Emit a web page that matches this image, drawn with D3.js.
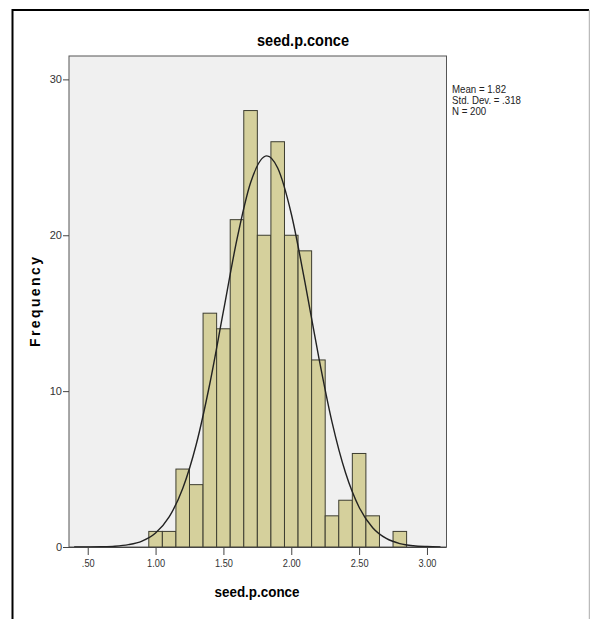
<!DOCTYPE html>
<html lang="en">
<head>
  <meta charset="UTF-8">
  <title>seed.p.conce histogram</title>
  <script src="https://d3js.org/d3.v7.min.js"></script>
  <style>
    body { margin: 0; background: #fff; }
    svg { display: block; font-family: "Liberation Sans", Arial, sans-serif; }
    .tick text { fill: #333; font-size: 11px; }
    .tick line { stroke: #444; }
  </style>
</head>
<body>
  <svg width="590" height="619"></svg>

  <script>
    // histogram bins (centre of each 0.1 wide bin) and counts
    const binCenters = [1.0, 1.1, 1.2, 1.3, 1.4, 1.5, 1.6, 1.7, 1.8, 1.9, 2.0, 2.1, 2.2, 2.3, 2.4, 2.5, 2.6, 2.7, 2.8];
    const binCounts  = [1, 1, 5, 4, 15, 14, 21, 28, 20, 26, 20, 19, 12, 2, 3, 6, 2, 0, 1];
    const binWidth = 0.1;

    // normal curve
    const curveX = [0.4, 0.5, 0.6, 0.7, 0.8, 0.9, 1.0, 1.1, 1.2, 1.3, 1.4, 1.5, 1.6, 1.7, 1.82, 1.9, 2.0, 2.1, 2.2, 2.3, 2.4, 2.5, 2.6, 2.7, 2.8, 2.9, 3.0, 3.1];
    const curveY = [0.001, 0.005, 0.016, 0.05, 0.15, 0.38, 0.9, 1.93, 3.75, 6.59, 10.49, 15.13, 19.75, 23.37, 25.09, 24.31, 21.38, 17.03, 12.29, 8.03, 4.76, 2.55, 1.24, 0.55, 0.22, 0.08, 0.03, 0.01];

    const xTicks = [0.5, 1.0, 1.5, 2.0, 2.5, 3.0];
    const xTickLabels = [".50", "1.00", "1.50", "2.00", "2.50", "3.00"];
    const yTicks = [0, 10, 20, 30];
    const statsLines = ["Mean = 1.82", "Std. Dev. = .318", "N = 200"];

    const svg = d3.select("svg");

    const plot = { left: 69, right: 446.5, top: 56, bottom: 547 };

    const x = d3.scaleLinear().domain([0.362, 3.144]).range([plot.left, plot.right]);
    const y = d3.scaleLinear().domain([0, 31.5]).range([plot.bottom, plot.top]);

    // outer frame
    svg.append("path")
      .attr("d", "M12.5,619 L12.5,10 L589,10")
      .attr("fill", "none").attr("stroke", "#000").attr("stroke-width", 2);
    svg.append("line")
      .attr("x1", 589.5).attr("x2", 589.5).attr("y1", 10).attr("y2", 619)
      .attr("stroke", "#bbb").attr("stroke-width", 1.5);

    // plot background
    svg.append("rect")
      .attr("x", plot.left).attr("y", plot.top)
      .attr("width", plot.right - plot.left).attr("height", plot.bottom - plot.top)
      .attr("fill", "#f0f0f0").attr("stroke", "#555").attr("stroke-width", 1);

    // bars
    svg.append("g").selectAll("rect")
      .data(binCenters)
      .enter()
      .append("rect")
      .attr("x", d => x(d - binWidth / 2))
      .attr("width", d => x(d + binWidth / 2) - x(d - binWidth / 2))
      .attr("y", (d, i) => y(binCounts[i]))
      .attr("height", (d, i) => y(0) - y(binCounts[i]))
      .attr("fill", "#d5d09c")
      .attr("stroke", "#3d3d30")
      .attr("stroke-width", 1);

    // normal curve
    const line = d3.line()
      .x(d => x(d[0]))
      .y(d => y(d[1]))
      .curve(d3.curveMonotoneX);

    svg.append("path")
      .datum(curveX.map((v, i) => [v, curveY[i]]))
      .attr("d", line)
      .attr("fill", "none")
      .attr("stroke", "#222")
      .attr("stroke-width", 1.4);

    // axes
    const yAxis = svg.append("g")
      .attr("transform", `translate(${plot.left},0)`)
      .call(d3.axisLeft(y).tickValues(yTicks).tickSize(6).tickPadding(1).tickSizeOuter(0));
    yAxis.select(".domain").remove();

    const xAxis = svg.append("g")
      .attr("transform", `translate(0,${plot.bottom})`)
      .call(d3.axisBottom(x).tickValues(xTicks).tickSize(8).tickPadding(4)
        .tickFormat((d, i) => xTickLabels[i]).tickSizeOuter(0));
    xAxis.select(".domain").attr("stroke", "#444").attr("d", `M${plot.left - 6},0.5H${plot.right}`);
    xAxis.selectAll(".tick text").attr("transform", "scale(0.84,1)");

    // title and axis labels
    svg.append("text")
      .attr("x", 303).attr("y", 46)
      .attr("text-anchor", "middle")
      .attr("font-size", 16).attr("font-weight", "bold")
      .attr("textLength", 92).attr("lengthAdjust", "spacingAndGlyphs")
      .text("seed.p.conce");

    svg.append("text")
      .attr("x", 257).attr("y", 597)
      .attr("text-anchor", "middle")
      .attr("font-size", 14).attr("font-weight", "bold")
      .attr("textLength", 85).attr("lengthAdjust", "spacingAndGlyphs")
      .text("seed.p.conce");

    svg.append("text")
      .attr("transform", "translate(40,302) rotate(-90)")
      .attr("text-anchor", "middle")
      .attr("font-size", 14).attr("font-weight", "bold")
      .attr("textLength", 90).attr("lengthAdjust", "spacing")
      .text("Frequency");

    // stats box
    const stats = svg.append("g")
      .attr("transform", "translate(452,0) scale(0.88,1)");
    stats.selectAll("text")
      .data(statsLines)
      .enter()
      .append("text")
      .attr("x", 0)
      .attr("y", (d, i) => 93 + i * 11)
      .attr("font-size", 11)
      .attr("fill", "#222")
      .text(d => d);
  </script>
</body>
</html>
